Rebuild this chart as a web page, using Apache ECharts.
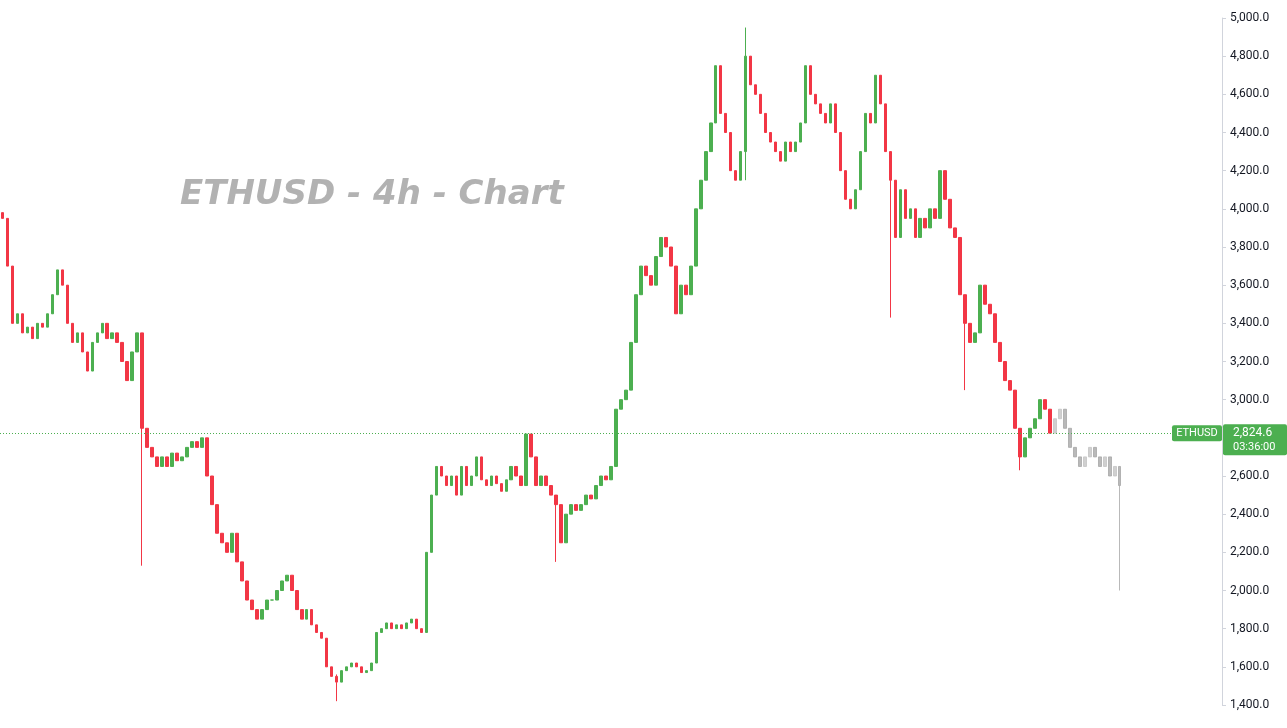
<!DOCTYPE html>
<html>
<head>
<meta charset="utf-8">
<script src="https://cdn.jsdelivr.net/npm/echarts@6/dist/echarts.min.js"></script>
<style>html,body{margin:0;padding:0;background:#fff}#chart{width:1287px;height:728px}</style>
</head>
<body>
<div id="chart"></div>
<script>
// closes, one candle per ~5px
const closes = [3950,3700,3400,3450,3350,3380,3320,3400,3380,3450,
  3550,3680,3600,3400,3300,3350,3250,3150,3300,3350,
  3400,3320,3350,3300,3200,3100,3250,3350,2850,2750,
  2700,2650,2700,2650,2720,2680,2700,2750,2780,2750,
  2800,2600,2450,2300,2250,2200,2300,2150,2050,1950,
  1900,1850,1900,1950,1950,2000,2050,2080,2000,1900,
  1850,1900,1820,1780,1750,1600,1550,1520,1580,1600,
  1620,1600,1570,1580,1620,1780,1800,1830,1800,1820,
  1800,1830,1850,1800,1780,2200,2500,2650,2600,2550,
  2600,2500,2650,2550,2600,2700,2580,2550,2600,2560,
  2520,2580,2650,2600,2550,2820,2700,2550,2600,2550,
  2500,2450,2250,2400,2450,2420,2450,2500,2480,2550,
  2600,2580,2650,2950,3000,3050,3300,3550,3700,3650,
  3600,3750,3850,3800,3700,3450,3600,3550,3700,4000,
  4150,4300,4450,4750,4500,4400,4200,4150,4300,4800,
  4650,4600,4500,4400,4350,4300,4250,4350,4300,4350,
  4450,4750,4600,4550,4500,4450,4550,4400,4200,4050,
  4000,4100,4300,4500,4450,4700,4550,4300,4150,3850,
  4100,3950,4000,3850,3950,3900,4000,3950,4200,4050,
  3900,3850,3550,3400,3300,3350,3600,3500,3450,3300,
  3200,3100,3050,2850,2700,2800,2850,2900,3000,2950,
  2824.6];
const ghostCloses = [2900,2950,2850,2750,2700,2650,2700,2750,2700,2650,2700,2600,2650,2550];
// [index, high, low] for visible long wicks
const wicks = [[28,2900,2130],[67,1560,1420],[111,2500,2150],[149,4950,4150],[178,4150,3430],[193,3400,3050],[204,2850,2630]];
const ghostWicks = [[13,2650,2000]];
const totalSlots = 245;
const lastPrice = 2824.6;

function toOhlc(arr, startOpen, wickList) {
  const out = arr.map((c, i) => {
    const o = i === 0 ? startOpen : arr[i - 1];
    return [o, c, Math.min(o, c), Math.max(o, c)];
  });
  wickList.forEach(([i, h, l]) => { out[i][3] = Math.max(out[i][3], h); out[i][2] = Math.min(out[i][2], l); });
  return out;
}

const real = toOhlc(closes, 3980, wicks);
const ghost = toOhlc(ghostCloses, lastPrice, ghostWicks);
const cats = Array.from({length: totalSlots}, (_, i) => i);
const realData = cats.map(i => i < real.length ? real[i] : '-');
const ghostData = cats.map(i => (i >= real.length && i < real.length + ghost.length) ? ghost[i - real.length] : '-');

const chart = echarts.init(document.getElementById('chart'));
chart.setOption({
  animation: false,
  grid: { left: 0, right: 65, top: 18, bottom: 23 },
  xAxis: { type: 'category', data: cats, show: false, boundaryGap: true },
  yAxis: {
    type: 'value', position: 'right', min: 1400, max: 5000, interval: 200,
    axisLine: { show: true, lineStyle: { color: '#d1d4dc' } },
    axisTick: { show: true, length: 4, lineStyle: { color: '#d1d4dc' } },
    splitLine: { show: false },
    axisLabel: { color: '#131722', fontSize: 12, fontFamily: 'Roboto', margin: 8,
      formatter: v => v.toLocaleString('en-US', { minimumFractionDigits: 1 }) }
  },
  series: [{
    type: 'candlestick', data: realData, barWidth: '60%',
    itemStyle: { color: '#4caf50', color0: '#f23645', borderColor: '#4caf50', borderColor0: '#f23645', borderWidth: 1 },
    markLine: {
      symbol: 'none', silent: true, label: { show: false },
      lineStyle: { color: '#4caf50', type: [1, 2], width: 1, opacity: 1 },
      emphasis: { disabled: true },
      data: [{ yAxis: lastPrice }]
    }
  }, {
    type: 'candlestick', data: ghostData, barWidth: '60%',
    itemStyle: { color: '#c4c4c4', color0: '#a8a8a8', borderColor: '#c4c4c4', borderColor0: '#a8a8a8', opacity: 0.8 }
  }]
});

const py = chart.convertToPixel({ yAxisIndex: 0 }, lastPrice);
chart.setOption({
  graphic: [{
    type: 'text', left: 180, top: 178, z: 100,
    style: { text: 'ETHUSD - 4h - Chart', fill: '#b2b2b2', font: 'italic bold 34px "DejaVu Sans"' }
  }, {
    type: 'rect', z: 100, shape: { x: 1172, y: py - 8, width: 50, height: 16, r: 2 }, style: { fill: '#4caf50' }
  }, {
    type: 'text', z: 101, x: 1197, y: py, style: { text: 'ETHUSD', fill: '#fff', font: '11px Roboto', align: 'center', verticalAlign: 'middle' }
  }, {
    type: 'rect', z: 100, shape: { x: 1223, y: py - 9, width: 64, height: 31, r: 2 }, style: { fill: '#4caf50' }
  }, {
    type: 'text', z: 101, x: 1233, y: py, style: { text: '2,824.6', fill: '#fff', font: '12px Roboto', verticalAlign: 'middle' }
  }, {
    type: 'text', z: 101, x: 1233, y: py + 14, style: { text: '03:36:00', fill: '#fff', font: '11px Roboto', verticalAlign: 'middle' }
  }]
});
</script>
</body>
</html>
